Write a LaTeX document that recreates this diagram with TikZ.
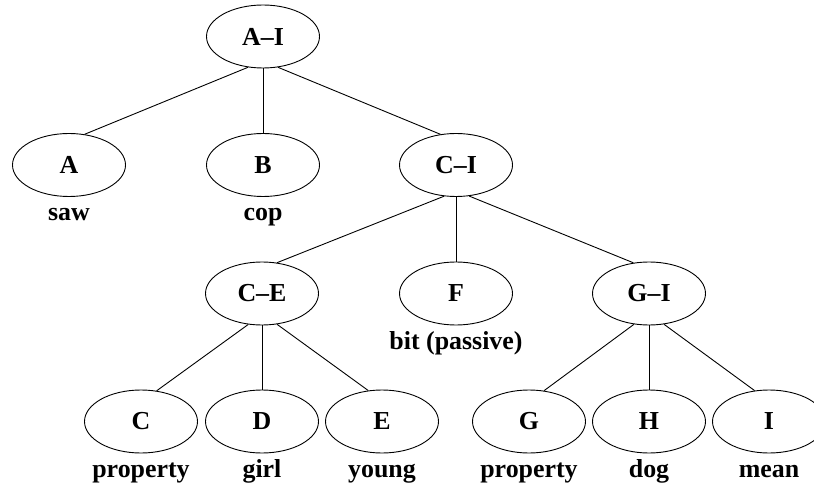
\documentclass[tikz,border=0pt]{standalone}
\usepackage{fontspec}
\setmainfont{Liberation Serif}
\usetikzlibrary{shapes.geometric}
\begin{document}
\begin{tikzpicture}[x=1bp,y=-1bp,
  every node/.style={font=\fontsize{26}{26}\selectfont\bfseries},
  ell/.style={ellipse,draw,line width=0.9bp,minimum width=113bp,minimum height=63bp,inner sep=0pt},
  lbl/.style={anchor=base,inner sep=0pt},
  edge/.style={line width=0.9bp}]
\useasboundingbox (0,0) rectangle (814,484);
% nodes
\node[ell] (AI) at (263,36.5) {A–I};
\node[ell] (A)  at (69,165)  {A};
\node[ell] (B)  at (263,165) {B};
\node[ell] (CI) at (456,165) {C–I};
\node[ell] (CE) at (262,293.5) {C–E};
\node[ell] (F)  at (456,293.5) {F};
\node[ell] (GI) at (649,293.5) {G–I};
\node[ell] (C)  at (141,421.5) {C};
\node[ell] (D)  at (262,421.5) {D};
\node[ell] (E)  at (382,421.5) {E};
\node[ell] (G)  at (529,421.5) {G};
\node[ell] (H)  at (649,421.5) {H};
\node[ell] (I)  at (769,421.5) {I};
% labels
\node[lbl] (lA) at (69,220.5)  {saw};
\node[lbl] (lB) at (263,220.5) {cop};
\node[lbl] (lF) at (456,349) {bit (passive)};
\node[lbl] (lC) at (141,477) {property};
\node[lbl] (lD) at (262,477) {girl};
\node[lbl] (lE) at (382,477) {young};
\node[lbl] (lG) at (529,477) {property};
\node[lbl] (lH) at (649,477) {dog};
\node[lbl] (lI) at (769,477) {mean};
% edges
\draw[edge] (AI.244) -- (A.63);
\draw[edge] (AI.south) -- (B.north);
\draw[edge] (AI.296) -- (CI.117);
\draw[edge] (CI.249) -- (CE.64);
\draw[edge] (CI.south) -- (F.north);
\draw[edge] (CI.293) -- (GI.117);
\draw[edge] (CE.246) -- (C.63);
\draw[edge] (CE.south) -- (D.north);
\draw[edge] (CE.296) -- (E.114);
\draw[edge] (GI.244) -- (G.64);
\draw[edge] (GI.south) -- (H.north);
\draw[edge] (GI.296) -- (I.115);
\end{tikzpicture}
\end{document}
